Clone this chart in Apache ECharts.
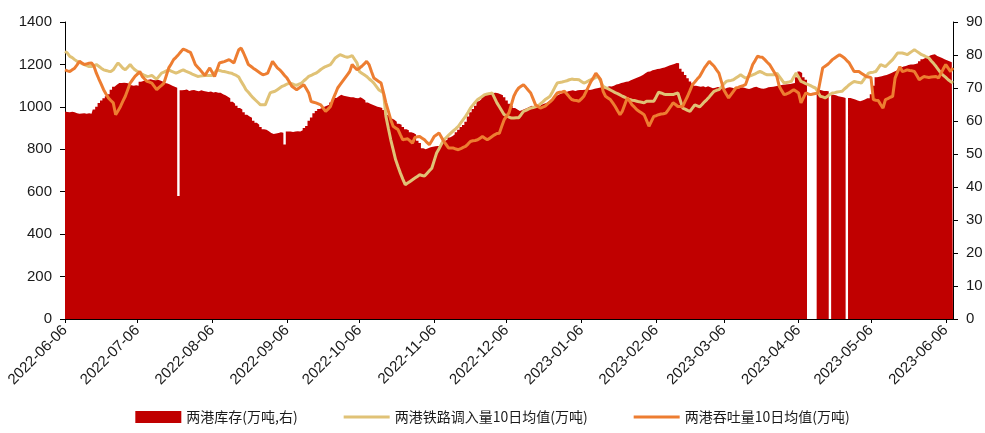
<!DOCTYPE html>
<html>
<head>
<meta charset="utf-8">
<script src="https://cdn.jsdelivr.net/npm/echarts@6/dist/echarts.min.js"></script>
<style>
html,body{margin:0;padding:0;background:#fff;}
#chart{width:985px;height:433px;}
</style>
</head>
<body>
<div id="chart"></div>
<script>
// ---- data ----
const startDate = '2022-06-06';
const dayCount = 369; // 2022-06-06 .. 2023-06-09

const seriesNames = ['两港库存(万吨,右)', '两港铁路调入量10日均值(万吨)', '两港吞吐量10日均值(万吨)'];

const leftTicks = [0, 200, 400, 600, 800, 1000, 1200, 1400];
const rightTicks = [0, 10, 20, 30, 40, 50, 60, 70, 80, 90];

// 两港库存 (left axis, 万吨)
const inventory = [
978,976,975,977,974,970,968,969,970,968,
970,968,987,1000,1018,1030,1040,1050,1060,1081,
1095,1104,1112,1112,1114,1112,1110,1102,1100,1102,
1100,1118,1122,1125,1128,1130,1127,1125,1128,1124,
1120,1113,1110,1105,1100,1095,1090,580,1078,1080,
1082,1075,1078,1080,1076,1074,1078,1075,1072,1070,
1072,1068,1070,1066,1066,1060,1055,1048,1040,1024,
1015,1005,995,987,975,963,955,949,935,925,
916,905,895,892,885,877,872,875,877,880,
878,822,884,884,882,884,885,884,890,900,
910,935,950,970,980,990,995,1000,1005,1010,
1020,1030,1042,1050,1057,1052,1050,1048,1045,1045,
1042,1040,1045,1038,1030,1020,1015,1010,1005,1000,
998,995,985,963,955,945,939,930,920,916,
905,895,890,880,877,870,840,830,805,800,
805,810,812,814,815,816,825,840,845,855,
861,870,880,892,905,915,930,955,975,990,
1005,1026,1035,1050,1058,1062,1065,1065,1066,1064,
1060,1055,1045,1030,1015,1005,995,987,980,985,
990,995,1000,1005,1002,1000,1002,1010,1015,1018,
1025,1034,1042,1050,1057,1062,1066,1068,1073,1076,
1078,1075,1078,1080,1079,1081,1083,1080,1082,1085,
1088,1090,1092,1095,1093,1097,1096,1100,1105,1108,
1112,1115,1118,1120,1125,1130,1135,1140,1144,1150,
1158,1165,1167,1172,1175,1178,1180,1183,1185,1190,
1195,1198,1202,1207,1205,1180,1165,1150,1135,1120,
1110,1100,1097,1095,1097,1093,1097,1092,1088,1090,
1094,1092,1088,1085,1090,1093,1090,1087,1085,1088,
1092,1090,1086,1084,1088,1092,1095,1090,1087,1085,
1088,1092,1094,1095,1097,1100,1102,1104,1105,1106,
1108,1110,1112,1140,1167,1160,1140,1128,null,null,
null,null,1081,1078,1075,1075,1073,null,1057,1055,
1050,1048,1045,1042,null,1042,1038,1035,1030,1026,
1030,1035,1040,1040,1060,1100,1140,1142,1144,1148,
1150,1155,1160,1165,1170,1178,1185,1190,1193,1197,
1200,1200,1202,1205,1215,1225,1230,1235,1242,1246,
1248,1240,1235,1230,1225,1220,1215,1210,1205
];

// 两港铁路调入量10日均值 (right axis, 万吨)
const railway = [
81.1,80.6,79.6,79.2,78.6,78.1,77.8,77.4,77.1,76.8,
76.5,76.5,76.8,77.1,76.6,76.0,75.5,75.3,75.1,75.0,
75.5,76.6,77.6,76.8,76.0,75.5,76.3,77.1,76.2,75.5,
75.0,74.5,74.2,73.8,73.5,73.6,73.8,73.2,72.7,73.6,
74.5,74.8,75.2,75.5,75.1,74.8,74.5,74.8,75.2,75.5,
75.1,74.8,74.5,74.1,73.8,73.5,73.6,73.7,73.8,73.8,
73.8,73.8,74.6,75.5,75.3,75.1,75.0,74.8,74.6,74.5,
74.1,73.8,73.3,72.0,70.8,69.5,68.7,67.8,67.0,66.3,
65.6,64.9,64.9,64.9,66.7,68.5,68.8,69.0,69.5,70.0,
70.5,70.8,71.2,71.5,71.3,71.0,70.8,71.2,71.5,72.2,
72.8,73.5,73.8,74.2,74.5,75.0,75.6,76.1,76.5,76.8,
77.1,78.1,79.1,79.6,80.1,79.8,79.5,79.3,79.5,79.8,
78.7,77.6,75.0,74.5,74.0,73.5,72.8,72.2,71.5,70.5,
69.5,69.0,68.5,61.4,57.8,54.3,51.3,48.3,46.2,44.2,
42.4,40.7,41.2,41.7,42.2,42.7,43.2,43.7,43.5,43.3,
44.1,44.9,45.7,48.0,50.3,51.6,53.0,54.3,55.0,55.7,
56.4,57.1,57.7,58.4,59.4,60.4,61.4,62.6,63.9,64.8,
65.7,66.5,67.0,67.5,68.0,68.2,68.3,68.5,67.0,65.5,
64.3,63.1,61.9,61.6,61.2,60.9,60.9,61.0,61.0,61.9,
62.9,63.2,63.6,63.9,64.1,64.3,64.5,65.2,65.8,66.5,
67.0,67.5,68.8,70.2,71.5,71.7,71.8,72.0,72.2,72.5,
72.7,72.6,72.6,72.5,72.0,71.5,71.8,72.2,72.5,72.8,
73.2,73.5,72.0,70.5,70.1,69.8,69.4,69.0,68.6,68.3,
67.9,67.5,67.2,66.8,66.5,66.3,66.2,66.0,65.8,65.7,
65.5,66.0,66.0,66.0,66.0,67.3,68.7,68.5,68.2,68.0,
68.0,68.0,68.0,68.3,68.5,66.2,63.9,63.6,63.2,62.9,
63.9,64.9,64.6,64.3,65.0,65.8,66.5,67.3,68.2,69.0,
69.3,69.5,70.3,71.2,72.0,72.2,72.3,72.5,73.0,73.5,
74.0,73.5,73.0,73.3,73.7,74.0,74.3,74.7,75.0,74.7,
74.3,74.0,74.0,74.0,74.0,74.5,73.5,72.5,71.5,71.7,
71.8,72.0,73.3,74.5,73.3,72.0,71.7,71.3,71.0,70.7,
70.3,70.0,68.8,67.5,67.3,67.0,67.5,68.0,68.5,68.6,
68.8,68.9,69.0,69.7,70.3,71.0,71.5,72.0,71.8,71.7,
71.5,72.5,73.5,74.5,74.7,74.8,75.0,76.0,77.1,76.8,
76.5,77.2,77.9,78.6,79.6,80.6,80.6,80.6,80.4,80.1,
80.6,81.1,81.6,81.1,80.6,80.1,79.8,79.4,79.1,78.2,
77.4,76.5,75.5,74.5,73.8,73.2,72.5,72.0,71.5
];

// 两港吞吐量10日均值 (right axis, 万吨)
const throughput = [
75.5,75.2,75.0,75.5,76.0,77.0,78.1,77.6,77.1,77.3,
77.5,77.6,76.6,74.5,72.8,71.2,69.5,68.2,67.0,66.2,
65.5,61.9,63.1,64.4,66.0,67.5,69.5,71.5,72.5,73.5,
74.2,75.0,73.5,72.7,72.0,71.8,71.5,70.5,69.5,70.2,
70.8,71.5,73.8,76.1,77.3,78.6,79.3,80.1,81.0,81.8,
81.5,81.1,80.8,79.0,77.1,76.3,75.5,74.6,73.8,75.0,
76.1,74.8,73.5,75.5,77.6,77.8,78.0,78.3,78.6,78.1,
77.6,79.6,81.6,82.1,80.6,78.9,77.1,76.6,76.0,75.5,
75.0,74.5,74.0,74.2,74.5,76.3,78.1,77.1,76.1,75.5,
74.7,73.8,73.0,71.8,70.5,70.0,69.5,70.0,70.5,71.0,
69.8,68.5,65.9,65.7,65.5,65.2,64.9,63.9,62.9,63.6,
64.4,66.5,68.2,70.0,71.0,72.0,73.0,74.0,75.0,77.1,
76.3,75.5,76.0,76.6,77.3,78.1,77.1,75.0,73.0,72.5,
72.0,71.5,68.5,65.5,63.0,60.4,58.4,57.9,57.4,55.8,
54.3,54.5,54.6,54.0,53.3,55.0,55.2,55.3,54.8,54.3,
53.5,52.8,54.0,55.3,55.8,56.4,55.1,53.8,52.8,51.8,
51.8,51.8,51.5,51.3,51.6,52.0,52.3,53.0,53.8,54.0,
54.1,54.3,54.8,55.3,54.8,54.3,54.8,55.3,55.8,56.2,
56.3,58.4,60.4,61.5,62.5,65.0,67.5,69.0,70.0,70.5,
71.0,70.2,69.3,68.5,66.7,64.9,64.4,63.9,64.2,64.5,
65.2,65.8,66.5,67.5,68.5,68.7,68.8,69.0,68.2,67.3,
66.5,66.3,66.2,66.0,66.7,67.5,69.0,70.5,72.0,73.2,
74.5,73.5,72.5,69.0,67.5,67.0,66.5,65.5,64.4,63.1,
61.9,63.0,65.0,67.0,66.0,64.9,64.2,63.4,62.9,62.4,
61.9,60.2,58.4,59.9,61.4,61.6,61.9,62.1,62.2,62.4,
63.4,64.4,65.5,65.0,64.4,64.4,64.4,66.0,67.5,69.2,
71.0,71.8,72.7,73.5,74.8,76.1,77.1,78.1,77.3,76.6,
75.5,74.5,72.0,69.5,68.2,67.0,68.0,69.0,70.0,70.2,
70.5,70.7,71.0,73.0,75.0,77.1,78.3,79.6,79.4,79.3,
78.6,77.8,77.1,75.9,74.7,73.5,70.5,69.2,68.0,68.2,
68.5,69.0,69.5,69.0,68.5,65.5,67.0,68.5,68.2,68.0,
68.2,68.3,68.5,72.3,76.1,76.6,77.1,77.8,78.6,79.1,
79.6,80.1,79.6,79.1,78.3,77.6,76.3,75.0,75.0,75.0,
74.5,74.0,73.5,73.3,73.2,66.5,66.3,66.2,65.0,63.9,
66.5,66.8,67.2,67.5,73.0,74.8,76.5,75.0,75.2,75.5,
75.3,75.2,75.0,73.8,72.5,73.0,73.5,73.3,73.2,73.3,
73.4,73.5,73.0,74.4,75.8,77.1,76.0,75.0,76.1
];

// ---- category labels (daily dates) ----
function pad(n){return n<10?'0'+n:''+n;}
const dates = [];
(function(){
  const p = startDate.split('-').map(Number);
  const d0 = Date.UTC(p[0], p[1]-1, p[2]);
  for (let i = 0; i < dayCount; i++) {
    const d = new Date(d0 + i*86400000);
    dates.push(d.getUTCFullYear()+'-'+pad(d.getUTCMonth()+1)+'-'+pad(d.getUTCDate()));
  }
})();
const showTick = (idx, val) => /-06$/.test(val);

const chart = echarts.init(document.getElementById('chart'), null, {renderer:'canvas'});
const axisFont = {fontFamily:'Liberation Sans, Arial, sans-serif', fontSize:15, color:'#1a1a1a'};
const lineIcon = 'path://M0,0L46,0L46,0Z M0,4.5L46,4.5L46,7.5L0,7.5Z M0,12L46,12L46,12Z';

chart.setOption({
  animation:false,
  backgroundColor:'#fff',
  grid:{left:65, right:32, top:22, bottom:114, containLabel:false, outerBoundsMode:'none'},
  legend:{
    bottom:4, left:'center',
    itemWidth:46, itemHeight:12, itemGap:46,
    textStyle:{fontFamily:'Noto Sans CJK SC, sans-serif', fontSize:14, color:'#1a1a1a'},
    data:[
      {name:seriesNames[0], icon:'rect'},
      {name:seriesNames[1], icon:lineIcon},
      {name:seriesNames[2], icon:lineIcon}
    ]
  },
  xAxis:{
    type:'category',
    data:dates,
    boundaryGap:false,
    axisLine:{show:true, lineStyle:{color:'#000', width:1}},
    axisTick:{show:true, interval:showTick, length:4, lineStyle:{color:'#000'}},
    axisLabel:Object.assign({interval:showTick, rotate:45, margin:9}, axisFont),
    splitLine:{show:false}
  },
  yAxis:[
    {
      type:'value', position:'left', min:leftTicks[0], max:leftTicks[leftTicks.length-1], interval:leftTicks[1]-leftTicks[0],
      axisLine:{show:true, lineStyle:{color:'#000'}},
      axisTick:{show:true, length:5, lineStyle:{color:'#000'}},
      axisLabel:Object.assign({margin:13, formatter:(v)=>String(v)}, axisFont),
      splitLine:{show:false}
    },
    {
      type:'value', position:'right', min:rightTicks[0], max:rightTicks[rightTicks.length-1], interval:rightTicks[1]-rightTicks[0],
      axisLine:{show:true, lineStyle:{color:'#000'}},
      axisTick:{show:true, length:5, lineStyle:{color:'#000'}},
      axisLabel:Object.assign({margin:13, formatter:(v)=>String(v)}, axisFont),
      splitLine:{show:false}
    }
  ],
  series:[
    {
      name:seriesNames[0], type:'line', yAxisIndex:0, data:inventory,
      step:'middle', symbol:'none', connectNulls:false,
      color:'#C00000',
      lineStyle:{width:0, color:'#C00000'},
      areaStyle:{color:'#C00000', opacity:1},
      itemStyle:{color:'#C00000'},
      z:1
    },
    {
      name:seriesNames[1], type:'line', yAxisIndex:1, data:railway,
      symbol:'none', smooth:false,
      color:'#E0C276',
      lineStyle:{color:'#E0C276', width:3},
      itemStyle:{color:'#E0C276'},
      z:3
    },
    {
      name:seriesNames[2], type:'line', yAxisIndex:1, data:throughput,
      symbol:'none', smooth:false,
      color:'#ED7D31',
      lineStyle:{color:'#ED7D31', width:3},
      itemStyle:{color:'#ED7D31'},
      z:4
    }
  ]
});
</script>
</body>
</html>
